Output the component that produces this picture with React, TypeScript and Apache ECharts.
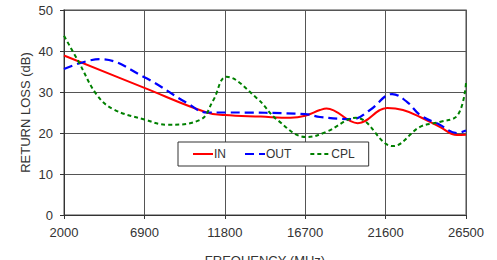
import React, { useEffect, useRef } from "react";
import * as echarts from "echarts";

const X_MIN = 2000;
const X_MAX = 26500;
const X_STEP = 4900;
const yTicks = [0, 10, 20, 30, 40, 50];

const inFreq = [2000, 6900, 10700, 11800, 14000, 15800, 16700, 17600, 18000, 19900, 21700, 22660, 23700, 24900, 25950, 26500];
const inVal = [38.9, 31, 25, 24.4, 24, 23.7, 24.2, 25.6, 26.0, 22.4, 26.1, 25.6, 23.9, 21.5, 19.5, 19.6];

const outFreq = [2000, 4200, 6900, 9500, 10700, 11800, 16700, 17600, 19600, 20650, 22000, 22900, 23700, 24900, 25950, 26500];
const outVal = [35.6, 38, 33.6, 27.3, 25, 25, 24.6, 23.9, 23.4, 25.6, 29.5, 27.6, 24.4, 22, 20, 20.6];

const cplFreq = [2000, 2900, 4000, 5000, 6900, 8300, 10300, 11100, 11900, 13750, 15000, 16800, 18000, 19800, 22050, 23700, 24900, 26000, 26500];
const cplVal = [43.7, 37.3, 29.3, 25.8, 23.3, 22, 23.2, 28, 33.7, 28.5, 23.2, 19, 20.3, 23.7, 16.8, 21.5, 22.7, 24.4, 32.2];

const toData = (f: number[], v: number[]) => f.map((x, i) => [x - X_MIN, v[i]]);

export default function App() {
  const ref = useRef<HTMLDivElement>(null);
  useEffect(() => {
    const chart = echarts.init(ref.current!, null, { renderer: "svg" });
    const font = "Liberation Sans, Arial, sans-serif";
    chart.setOption({
      animation: false,
      textStyle: { fontFamily: font },
      grid: { left: 64, right: 31, top: 10, bottom: 45, containLabel: false, outerBoundsMode: "none" },
      legend: {
        left: 178,
        top: 142,
        width: 183,
        itemWidth: 20,
        itemHeight: 10,
        itemGap: 18,
        padding: [6, 14, 6, 14],
        borderColor: "#333",
        borderWidth: 1,
        backgroundColor: "#fff",
        itemStyle: { opacity: 0 },
        textStyle: { fontSize: 12, color: "#333", fontFamily: font, padding: [0, 0, 0, -4] },
        data: ["IN", "OUT", "CPL"],
      },
      xAxis: {
        type: "value",
        min: 0,
        max: X_MAX - X_MIN,
        interval: X_STEP,
        name: "FREQUENCY (MHz)",
        nameLocation: "middle",
        nameGap: 39,
        nameMoveOverlap: false,
        nameTextStyle: { fontSize: 13, color: "#333", fontFamily: font },
        axisLine: { show: true, lineStyle: { color: "#333", width: 1 } },
        axisTick: { show: true, length: 4, inside: false, lineStyle: { color: "#333" } },
        axisLabel: {
          fontSize: 13,
          color: "#333",
          margin: 11,
          formatter: (v: number) => String(v + X_MIN),
        },
        splitLine: { show: true, lineStyle: { color: "#555", width: 1 } },
      },
      yAxis: {
        type: "value",
        min: yTicks[0],
        max: yTicks[yTicks.length - 1],
        interval: 10,
        name: "RETURN LOSS (dB)",
        nameLocation: "middle",
        nameGap: 32,
        nameMoveOverlap: false,
        nameTextStyle: { fontSize: 13, color: "#333", fontFamily: font },
        axisLine: { show: true, lineStyle: { color: "#333", width: 1 } },
        axisTick: { show: true, length: 4, inside: false, lineStyle: { color: "#333" } },
        axisLabel: { fontSize: 13, color: "#333", margin: 11 },
        splitLine: { show: true, lineStyle: { color: "#555", width: 1 } },
      },
      graphic: [
        {
          type: "rect",
          shape: { x: 64, y: 10, width: 402, height: 205 },
          style: { fill: "none", stroke: "#888", lineWidth: 1.5 },
          silent: true,
          z: 0,
        },
      ],
      series: [
        {
          name: "IN",
          type: "line",
          data: toData(inFreq, inVal),
          smooth: 0.4,
          symbol: "none",
          lineStyle: { color: "#ff0000", width: 2 },
          itemStyle: { color: "#ff0000" },
          z: 3,
        },
        {
          name: "OUT",
          type: "line",
          data: toData(outFreq, outVal),
          smooth: 0.4,
          symbol: "none",
          lineStyle: { color: "#0000ff", width: 2.2, type: [9, 5] },
          itemStyle: { color: "#0000ff" },
          z: 4,
        },
        {
          name: "CPL",
          type: "line",
          data: toData(cplFreq, cplVal),
          smooth: 0.4,
          symbol: "none",
          lineStyle: { color: "#008000", width: 2, type: [4, 3] },
          itemStyle: { color: "#008000" },
          z: 5,
        },
      ],
    });
    return () => chart.dispose();
  }, []);
  return <div ref={ref} style={{ width: 497, height: 260, position: "absolute", left: 0, top: 0 }} />;
}
